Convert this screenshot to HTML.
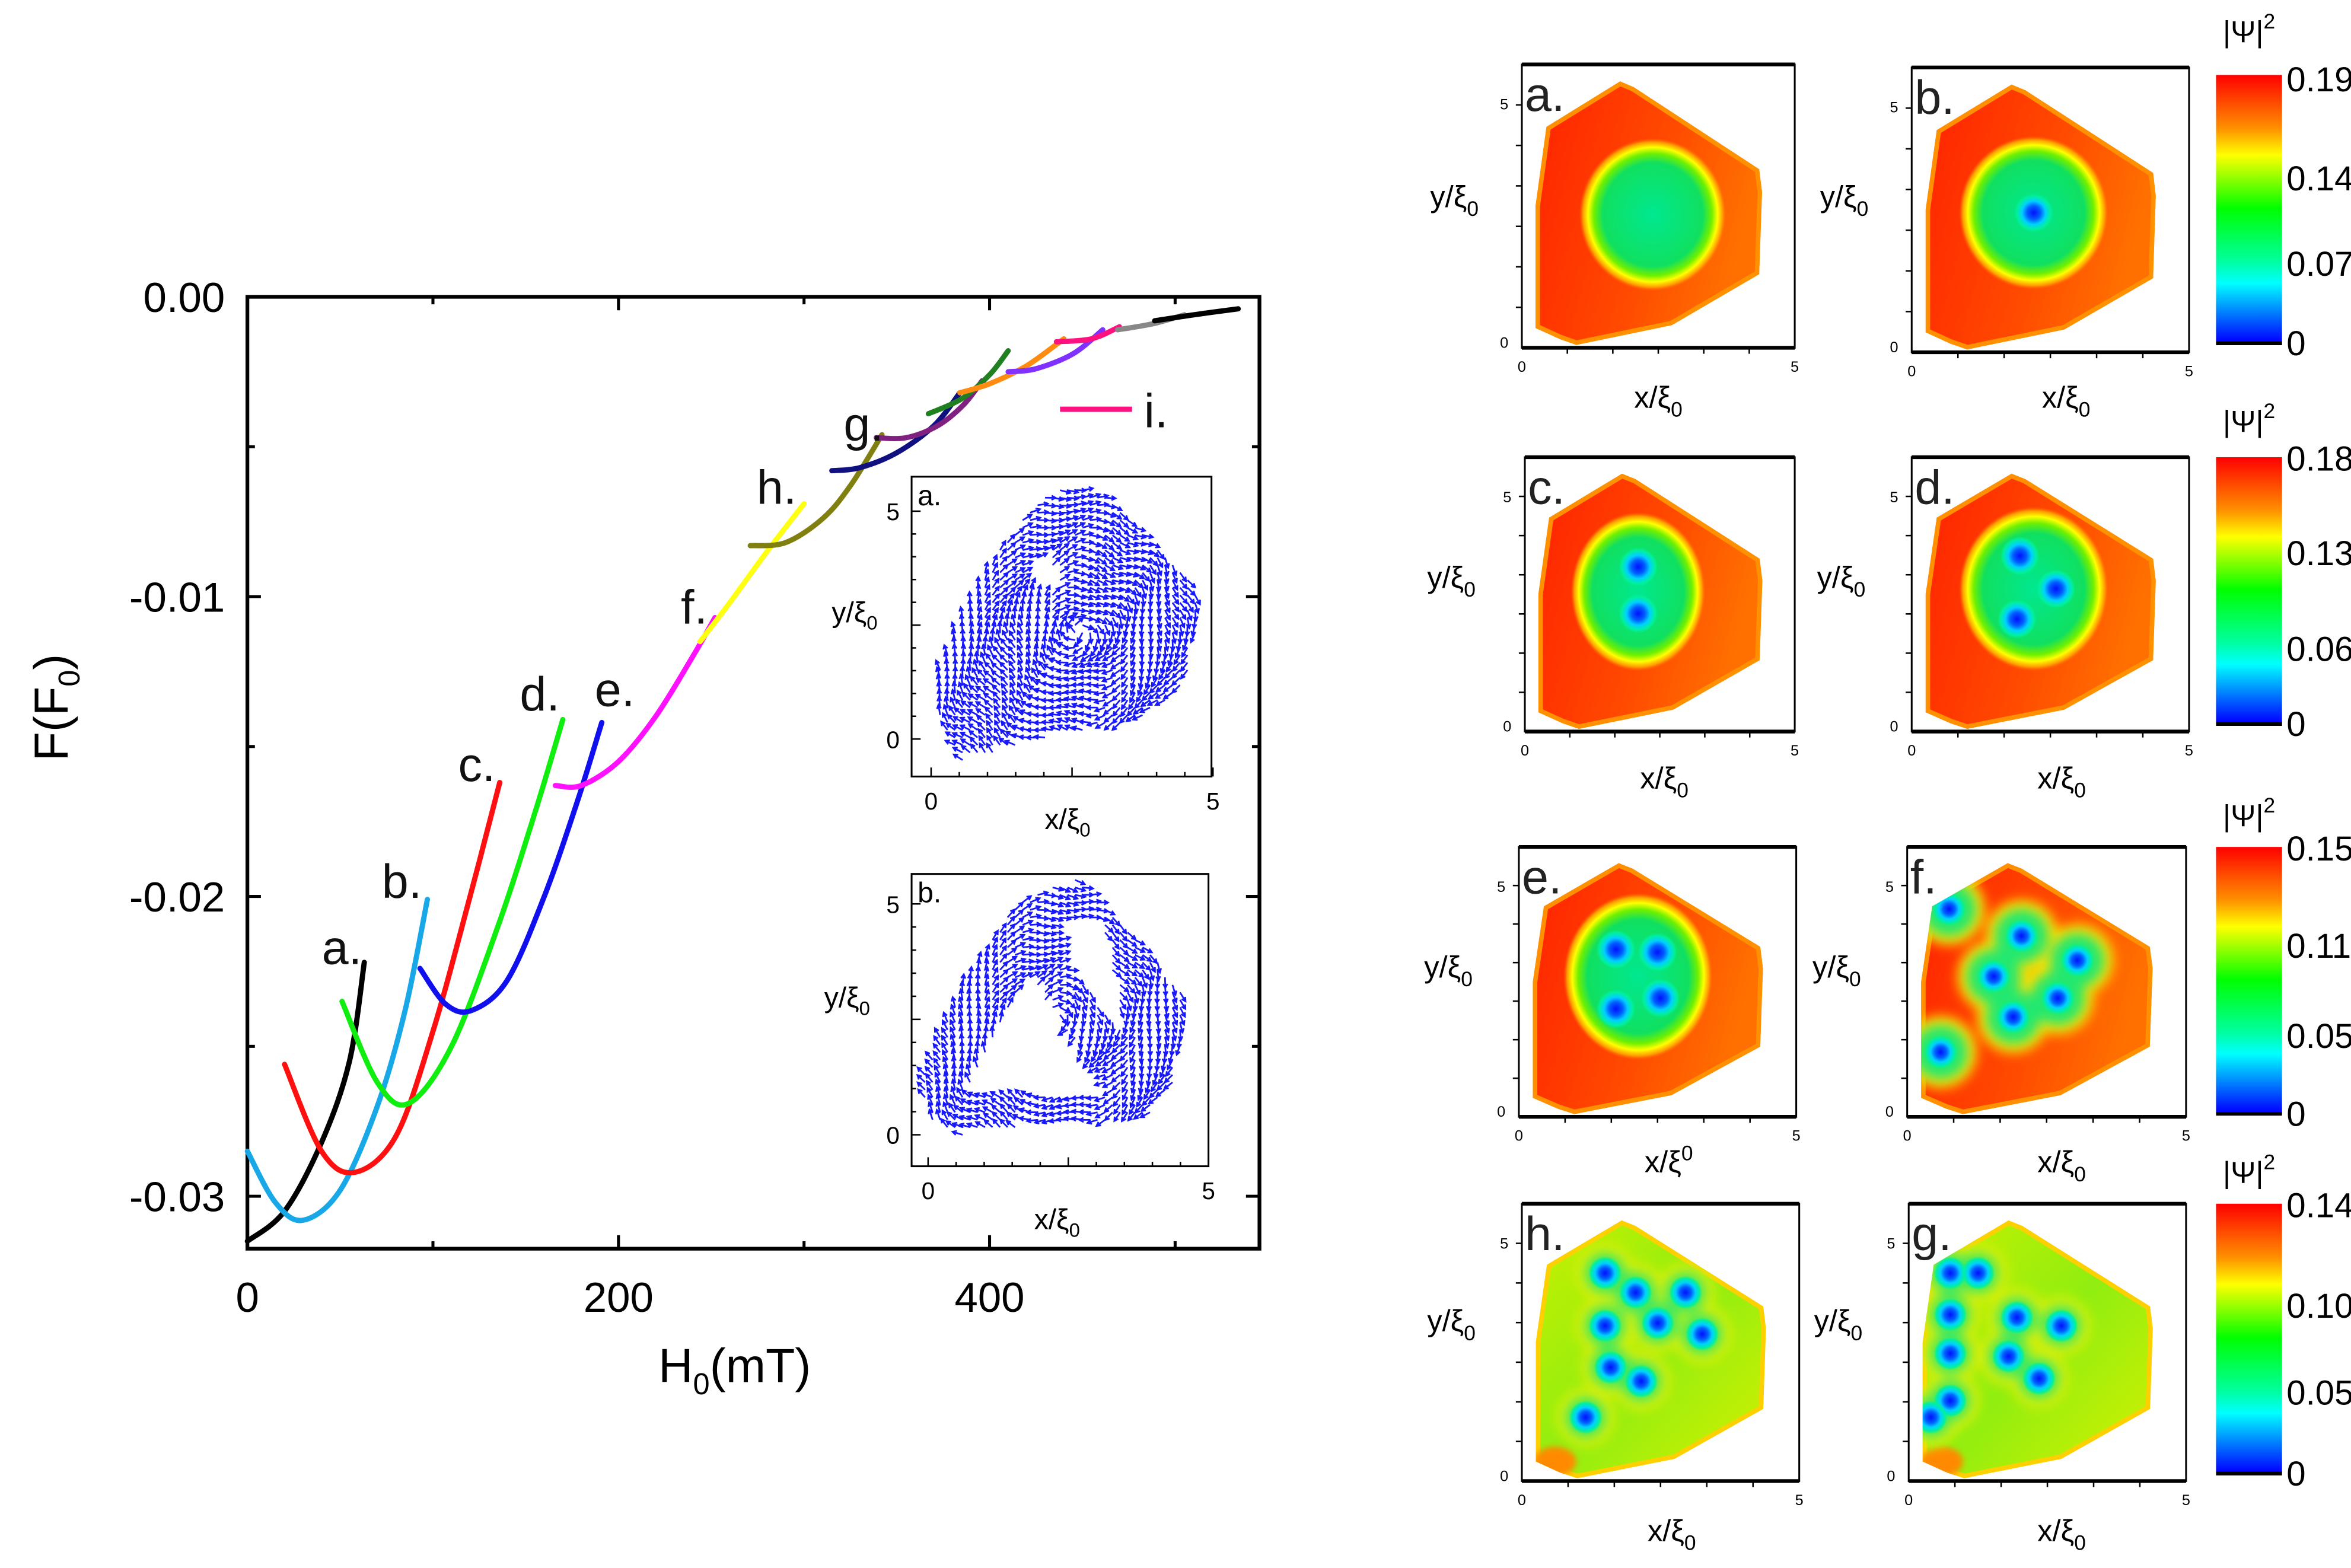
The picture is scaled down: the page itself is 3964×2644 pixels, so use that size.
<!DOCTYPE html>
<html><head><meta charset="utf-8"><style>
html,body{margin:0;padding:0;background:#fff}
svg{display:block;font-family:"Liberation Sans",Arial,sans-serif}
</style></head><body>
<svg id="fig" xmlns="http://www.w3.org/2000/svg" width="3964" height="2644" viewBox="0 0 1568 1046" preserveAspectRatio="none">
<defs>
<radialGradient id="coreG"><stop offset="0" stop-color="#00e890"/><stop offset="0.68" stop-color="#10e060"/><stop offset="0.8" stop-color="#70f000"/><stop offset="0.88" stop-color="#ffff00"/><stop offset="0.95" stop-color="#ff9a00"/><stop offset="1" stop-color="#ff6000" stop-opacity="0"/></radialGradient>
<radialGradient id="spotG"><stop offset="0" stop-color="#0010ff"/><stop offset="0.35" stop-color="#0060ff"/><stop offset="0.6" stop-color="#00d0ff"/><stop offset="0.85" stop-color="#00f0a0"/><stop offset="1" stop-color="#00f0a0" stop-opacity="0"/></radialGradient>
<linearGradient id="baseR" x1="0" y1="0" x2="1" y2="0.3"><stop offset="0" stop-color="#ff2200"/><stop offset="0.6" stop-color="#ff4a00"/><stop offset="1" stop-color="#ff7000"/></linearGradient>
<linearGradient id="baseY" x1="0" y1="0" x2="1" y2="1"><stop offset="0" stop-color="#c8f000"/><stop offset="0.5" stop-color="#90ee10"/><stop offset="1" stop-color="#d8f000"/></linearGradient>
<linearGradient id="cbar" x1="0" y1="0" x2="0" y2="1"><stop offset="0" stop-color="#ff0000"/><stop offset="0.2" stop-color="#ff9000"/><stop offset="0.3" stop-color="#ffff00"/><stop offset="0.5" stop-color="#00ff00"/><stop offset="0.7" stop-color="#00ffa0"/><stop offset="0.78" stop-color="#00ffff"/><stop offset="1" stop-color="#0000ff"/></linearGradient>
<filter id="bl" x="-50%" y="-50%" width="200%" height="200%"><feGaussianBlur stdDeviation="2"/></filter>
<filter id="bl4" x="-20%" y="-20%" width="140%" height="140%"><feGaussianBlur stdDeviation="4"/></filter>
</defs>
<g id="main"></g>
<g id="insets"></g>
<g id="maps"></g>
</svg>
<script>
// ---- chart data ----
const seriesNames=["a","b","c","d","e","f","f2","h","g","g2","g3","g4","g5","i","g6","g7"];
const seriesColors=["#000000","#18a8e8","#ff1010","#10ee10","#1010ee","#ff10ff","#ffff10","#808010","#101080","#802080","#208020","#ff8c10","#8030ff","#ff1080","#888888","#000000"];
const H_a=[0,20,40,55,63];           const F_a=[-0.0315,-0.0305,-0.0282,-0.0255,-0.0222];
const H_b=[0,15,30,50,70,85,97];     const F_b=[-0.0285,-0.0302,-0.0308,-0.0298,-0.0270,-0.0238,-0.0201];
const H_c=[20,40,58,80,100,120,136]; const F_c=[-0.0256,-0.0285,-0.0292,-0.0280,-0.0245,-0.0200,-0.0162];
const H_d=[51,70,87,110,135,155,170];const F_d=[-0.0235,-0.0262,-0.0269,-0.0250,-0.0210,-0.0172,-0.0141];
const H_e=[93,107,121,140,160,178,191];const F_e=[-0.0224,-0.0236,-0.0238,-0.0228,-0.0200,-0.0168,-0.0142];
const H_f=[166,180,200,220,240,252]; const F_f=[-0.0163,-0.0163,-0.0155,-0.0140,-0.0120,-0.0107];
const H_f2=[244,260,280,300];        const F_f2=[-0.0115,-0.0102,-0.0085,-0.0069];
const H_h=[271,290,310,325,342];     const F_h=[-0.0083,-0.0082,-0.0074,-0.0063,-0.0046];
const H_g=[315,330,350,370,384];     const F_g=[-0.0058,-0.0057,-0.0052,-0.0043,-0.0032];
const H_g2=[339,355,372,386,396];    const F_g2=[-0.0047,-0.0047,-0.0043,-0.0036,-0.0028];
const H_g3=[367,385,400,410];        const F_g3=[-0.0039,-0.0034,-0.0026,-0.0018];
const H_g4=[384,400,420,440];        const F_g4=[-0.0032,-0.0029,-0.0023,-0.0014];
const H_g5=[410,425,445,461];        const F_g5=[-0.0025,-0.0024,-0.0019,-0.0011];
const H_i=[436,455,470];             const F_i=[-0.0015,-0.0014,-0.0010];
const H_g6=[469,488,505];            const F_g6=[-0.0011,-0.0009,-0.0006];
const H_g7=[489,510,534];            const F_g7=[-0.0008,-0.0006,-0.0004];
const seriesH=[H_a,H_b,H_c,H_d,H_e,H_f,H_f2,H_h,H_g,H_g2,H_g3,H_g4,H_g5,H_i,H_g6,H_g7];
const seriesF=[F_a,F_b,F_c,F_d,F_e,F_f,F_f2,F_h,F_g,F_g2,F_g3,F_g4,F_g5,F_i,F_g6,F_g7];
const xTicks=[0,200,400];
const yTicks=[0,-0.01,-0.02,-0.03];
const yTickLabels=["0.00","-0.01","-0.02","-0.03"];

const NS="http://www.w3.org/2000/svg";
function mk(tag,attrs,parent,txt){const e=document.createElementNS(NS,tag);for(const k in attrs)e.setAttribute(k,attrs[k]);if(txt!==undefined)e.textContent=txt;parent.appendChild(e);return e;}
const X0=165,X1=840,Y0=198,Y1=833;
function xS(h){return X0+h*1.2375;}
function yS(f){return Y0-f*20000;}
const main=document.getElementById('main');

let frame=mk('rect',{x:X0,y:Y0,width:X1-X0,height:Y1-Y0,fill:'none',stroke:'#000','stroke-width':2.5},main);


for(let h=0;h<=500;h+=100){
  const L=h%200===0?9:5;
  const t1=mk('line',{x1:xS(h),x2:xS(h),y1:Y1,y2:Y1-L,stroke:'#000','stroke-width':2},main);
  
  
  const t2=mk('line',{x1:xS(h),x2:xS(h),y1:Y0,y2:Y0+L,stroke:'#000','stroke-width':2},main);
  
  
}
for(let k=0;k<=6;k++){
  const f=-k*0.005,L=k%2===0?9:5;
  const t1=mk('line',{x1:X0,x2:X0+L,y1:yS(f),y2:yS(f),stroke:'#000','stroke-width':2},main);
  
  
  const t2=mk('line',{x1:X1,x2:X1-L,y1:yS(f),y2:yS(f),stroke:'#000','stroke-width':2},main);
  
  
}
xTicks.forEach(h=>{const t=mk('text',{x:xS(h),y:875,'font-size':28,'text-anchor':'middle'},main,String(h));
  
  });
yTicks.forEach((f,i)=>{const t=mk('text',{x:150,y:yS(f)+10,'font-size':28,'text-anchor':'end'},main,yTickLabels[i]);
  
  });
let xt=mk('text',{x:490,y:922,'font-size':32,'text-anchor':'middle'},main);


xt.innerHTML='H<tspan font-size="20" dy="8">0</tspan><tspan dy="-8">(mT)</tspan>';
let yt=mk('text',{x:0,y:0,'font-size':32,'text-anchor':'middle',transform:'translate(45,472) rotate(-90)'},main);


yt.innerHTML='F(F<tspan font-size="20" dy="8">0</tspan><tspan dy="-8">)</tspan>';

function spline(pts){
  let d='M'+pts[0][0].toFixed(1)+','+pts[0][1].toFixed(1);
  for(let i=0;i<pts.length-1;i++){
    const p0=pts[Math.max(0,i-1)],p1=pts[i],p2=pts[i+1],p3=pts[Math.min(pts.length-1,i+2)];
    const c1=[p1[0]+(p2[0]-p0[0])/6,p1[1]+(p2[1]-p0[1])/6],c2=[p2[0]-(p3[0]-p1[0])/6,p2[1]-(p3[1]-p1[1])/6];
    d+='C'+c1.join(',')+' '+c2.join(',')+' '+p2.join(',');
  }
  return d;
}
seriesH.forEach((H,i)=>{
  const pts=H.map((h,j)=>[xS(h),yS(seriesF[i][j])]);
  const p=mk('path',{d:spline(pts),fill:'none',stroke:seriesColors[i],'stroke-width':3.5,'stroke-linecap':'round'},main);
  
  
});
let leg=mk('line',{x1:707,x2:755,y1:273,y2:273,stroke:'#ff1080','stroke-width':3.5},main);


[["a.",228,643],["b.",268,599],["c.",318,521],["d.",360,474],["e.",410,471],["f.",463,416],["h.",518,336],["g.",576,294],["i.",771,285]].forEach(l=>{
  const t=mk('text',{x:l[1],y:l[2],'font-size':32,'text-anchor':'middle',fill:'#111'},main,l[0]);
  
  
});

// ---- insets (vector fields) ----
const ins=document.getElementById('insets');
function inPoly(x,y,poly){let c=false;for(let i=0,j=poly.length-1;i<poly.length;j=i++){const a=poly[i],b=poly[j];if(((a[1]>y)!=(b[1]>y))&&(x<(b[0]-a[0])*(y-a[1])/(b[1]-a[1])+a[0]))c=!c;}return c;}
function inset(bx,by,bw,bh,lbl,y5,y0,x0,x5,outer,holes,cx,cy,name){
  const g=mk('g',{},ins);
  
  
  mk('rect',{x:bx,y:by,width:bw,height:bh,fill:'#fff',stroke:'#000','stroke-width':1.2},g);
  let d='';
  for(let x=bx+4;x<bx+bw;x+=5)for(let y=by+4;y<by+bh;y+=5){
    if(!inPoly(x,y,outer))continue;
    if(holes.some(h=>inPoly(x,y,h)))continue;
    const a=Math.atan2(y-cy,x-cx)+Math.PI/2+0.4*Math.sin(x*0.13+y*0.07);
    const L=7,ex=x+L*Math.cos(a),ey=y+L*Math.sin(a);
    d+=`M${x.toFixed(1)},${y.toFixed(1)}L${ex.toFixed(1)},${ey.toFixed(1)}`;
    d+=`M${(ex-3*Math.cos(a-0.5)).toFixed(1)},${(ey-3*Math.sin(a-0.5)).toFixed(1)}L${ex.toFixed(1)},${ey.toFixed(1)}L${(ex-3*Math.cos(a+0.5)).toFixed(1)},${(ey-3*Math.sin(a+0.5)).toFixed(1)}`;
  }
  mk('path',{d:d,stroke:'#1818ff','stroke-width':1.1,fill:'none'},g);
  mk('text',{x:bx+4,y:by+19,'font-size':19},g,lbl);
  mk('text',{x:bx-8,y:y5+6,'font-size':16,'text-anchor':'end'},g,'5');
  mk('text',{x:bx-8,y:y0+6,'font-size':16,'text-anchor':'end'},g,'0');
  mk('text',{x:x0,y:by+bh+22,'font-size':16,'text-anchor':'middle'},g,'0');
  mk('text',{x:x5,y:by+bh+22,'font-size':16,'text-anchor':'middle'},g,'5');
  for(let k=0;k<=10;k++){const x=x0+(x5-x0)*k/10;mk('line',{x1:x,x2:x,y1:by+bh,y2:by+bh-(k%5?3:6),stroke:'#000'},g);}
  for(let k=0;k<=10;k++){const y=y0+(y5-y0)*k/10;if(y>by)mk('line',{x1:bx,x2:bx+(k%5?3:6),y1:y,y2:y,stroke:'#000'},g);}
  return g;
}
const outerA=[[623,455],[650,390],[690,335],[715,322],[745,335],[795,385],[800,410],[790,460],[760,480],[700,492],[640,508],[622,470]];
const holesA=[[[680,378],[700,370],[705,395],[690,395]]];
const ia=inset(608,318,200,200,'a.',341,493,621,809,outerA,holesA,720,420,'inset-a');
mk('text',{x:570,y:415,'font-size':19,'text-anchor':'middle'},ia).innerHTML='y/ξ<tspan font-size="13" dy="5">0</tspan>';
mk('text',{x:712,y:553,'font-size':19,'text-anchor':'middle'},ia).innerHTML='x/ξ<tspan font-size="13" dy="5">0</tspan>';
const outerB=[[615,720],[640,660],[680,600],[720,585],[760,625],[790,665],[785,720],[765,745],[680,752],[640,758],[618,745]];
const holesB=[[[645,728],[685,650],[740,728]],[[705,615],[735,612],[750,690],[710,640]]];
const ib=inset(608,583,198,195,'b.',603,757,619,806,outerB,holesB,705,680,'inset-b');
mk('text',{x:565,y:672,'font-size':19,'text-anchor':'middle'},ib).innerHTML='y/ξ<tspan font-size="13" dy="5">0</tspan>';
mk('text',{x:705,y:820,'font-size':19,'text-anchor':'middle'},ib).innerHTML='x/ξ<tspan font-size="13" dy="5">0</tspan>';

// ---- density maps ----
const maps=document.getElementById('maps');
const shape=[[0.36,0.06],[0.41,0.08],[0.87,0.37],[0.88,0.45],[0.87,0.74],[0.55,0.92],[0.2,0.99],[0.14,0.97],[0.05,0.93],[0.05,0.5],[0.09,0.22]];
const panels=[
 {id:'a',x:1015,y:43,w:182,h:189,base:'baseR',core:[0.48,0.53,0.27,0.27],spots:[],blob:false,yl:[970,138],xlp:[1106,272]},
 {id:'b',x:1275,y:45,w:185,h:190,base:'baseR',core:[0.44,0.51,0.27,0.27],spots:[[0.44,0.51]],blob:false,yl:[1230,138],xlp:[1378,272]},
 {id:'c',x:1017,y:305,w:180,h:183,base:'baseR',core:[0.42,0.49,0.25,0.29],spots:[[0.42,0.4],[0.42,0.57]],blob:false,yl:[968,392],xlp:[1110,526]},
 {id:'d',x:1275,y:305,w:185,h:183,base:'baseR',core:[0.44,0.48,0.27,0.3],spots:[[0.39,0.36],[0.52,0.48],[0.38,0.59]],blob:false,yl:[1228,392],xlp:[1375,526]},
 {id:'e',x:1013,y:565,w:185,h:180,base:'baseR',core:[0.43,0.48,0.27,0.31],spots:[[0.35,0.38],[0.5,0.39],[0.35,0.6],[0.51,0.56]],blob:false,yl:[966,652],xlp:[1113,782]},
 {id:'f',x:1272,y:565,w:186,h:180,base:'baseR',core:null,spots:[[0.15,0.23],[0.41,0.33],[0.61,0.42],[0.31,0.48],[0.54,0.56],[0.38,0.63],[0.12,0.76]],blob:true,yl:[1225,652],xlp:[1375,782]},
 {id:'h',x:1015,y:803,w:185,h:185,base:'baseY',core:null,spots:[[0.3,0.25],[0.41,0.32],[0.59,0.32],[0.3,0.44],[0.49,0.43],[0.65,0.47],[0.32,0.59],[0.43,0.64],[0.23,0.77]],blob:true,yl:[968,888],xlp:[1115,1028]},
 {id:'g',x:1273,y:803,w:185,h:185,base:'baseY',core:null,spots:[[0.15,0.25],[0.25,0.25],[0.15,0.4],[0.39,0.41],[0.55,0.44],[0.15,0.54],[0.36,0.55],[0.15,0.71],[0.08,0.77],[0.47,0.63]],blob:true,yl:[1226,888],xlp:[1375,1028]}
];
panels.forEach(p=>{
  const g=mk('g',{},maps);
  
  
  const cid='clip'+p.id;
  const cp=mk('clipPath',{id:cid},g);
  const pts=shape.map(s=>(p.x+s[0]*p.w).toFixed(1)+','+(p.y+s[1]*p.h).toFixed(1)).join(' ');
  mk('polygon',{points:pts},cp);
  const c=mk('g',{'clip-path':`url(#${cid})`},g);
  mk('polygon',{points:pts,fill:`url(#${p.base})`,stroke:p.base==='baseY'?'#ffd000':'#ff9000','stroke-width':6},c);
  if(p.base==='baseY')mk('ellipse',{cx:p.x+0.12*p.w,cy:p.y+0.93*p.h,rx:14,ry:10,fill:'#ff8a00',filter:'url(#bl)'},c);
  if(p.core)mk('ellipse',{cx:p.x+p.core[0]*p.w,cy:p.y+p.core[1]*p.h,rx:p.core[2]*p.w,ry:p.core[3]*p.h,fill:'url(#coreG)'},c);
  if(p.blob){
    const yr=p.base==='baseY';
    const ly=mk('g',{filter:'url(#bl4)'},c);
    p.spots.forEach(s=>mk('circle',{cx:p.x+s[0]*p.w,cy:p.y+s[1]*p.h,r:yr?19:24,fill:yr?'#e8f000':'#ffe000'},ly));
    const lg=mk('g',{filter:'url(#bl4)'},c);
    p.spots.forEach(s=>mk('circle',{cx:p.x+s[0]*p.w,cy:p.y+s[1]*p.h,r:yr?14:18,fill:yr?'#40e860':'#20e870'},lg));
  }
  p.spots.forEach(s=>mk('circle',{cx:p.x+s[0]*p.w,cy:p.y+s[1]*p.h,r:p.blob?11:13,fill:'url(#spotG)'},c));
  mk('rect',{x:p.x,y:p.y,width:p.w,height:p.h,fill:'none',stroke:'#000','stroke-width':1.2},g);
  mk('line',{x1:p.x,x2:p.x+p.w,y1:p.y,y2:p.y,stroke:'#000','stroke-width':2.5},g);
  mk('line',{x1:p.x,x2:p.x+p.w,y1:p.y+p.h,y2:p.y+p.h,stroke:'#000','stroke-width':2.5},g);
  for(let k=1;k<6;k++){mk('line',{x1:p.x+p.w*k/6,x2:p.x+p.w*k/6,y1:p.y+p.h,y2:p.y+p.h+4,stroke:'#000'},g);}
  for(let k=1;k<7;k++){mk('line',{x1:p.x,x2:p.x-4,y1:p.y+p.h*k/7,y2:p.y+p.h*k/7,stroke:'#000'},g);}
  mk('text',{x:p.x+2,y:p.y+31,'font-size':32,fill:'#222'},g,p.id+'.');
  mk('text',{x:p.x-9,y:p.y+30,'font-size':10,'text-anchor':'end'},g,'5');
  mk('text',{x:p.x-9,y:p.y+p.h,'font-size':10,'text-anchor':'end'},g,'0');
  mk('text',{x:p.x,y:p.y+p.h+16,'font-size':10,'text-anchor':'middle'},g,'0');
  mk('text',{x:p.x+p.w,y:p.y+p.h+16,'font-size':10,'text-anchor':'middle'},g,'5');
  const yl=mk('text',{x:p.yl[0],y:p.yl[1],'font-size':20,'text-anchor':'middle'},g);
  yl.innerHTML='y/ξ<tspan font-size="14" dy="6">0</tspan>';
  const xl=mk('text',{x:p.xlp[0],y:p.xlp[1],'font-size':20,'text-anchor':'middle'},g);
  xl.innerHTML=p.id==='e'?'x/ξ<tspan font-size="14" dy="-8">0</tspan>':'x/ξ<tspan font-size="14" dy="6">0</tspan>';
});
const bars=[[50,228,["0.19","0.14","0.07","0"],[52,118,175,228],22],[305,482,["0.18","0.13","0.06","0"],[305,368,432,482],282],[565,742,["0.15","0.11","0.05","0"],[565,630,690,742],545],[803,982,["0.14","0.10","0.05","0"],[803,870,928,982],783]];
bars.forEach((b,i)=>{
  const g=mk('g',{},maps);
  
  
  mk('rect',{x:1478,y:b[0],width:44,height:b[1]-b[0],fill:'url(#cbar)'},g);
  mk('line',{x1:1478,x2:1522,y1:b[1]+1,y2:b[1]+1,stroke:'#000','stroke-width':2.5},g);
  b[2].forEach((t,j)=>mk('text',{x:1525,y:b[3][j]+9,'font-size':23},g,t));
  const l=mk('text',{x:1500,y:b[4]+6,'font-size':20,'text-anchor':'middle'},g);
  l.innerHTML='|Ψ|<tspan font-size="14" dy="-9">2</tspan>';
});
</script>
</body></html>
